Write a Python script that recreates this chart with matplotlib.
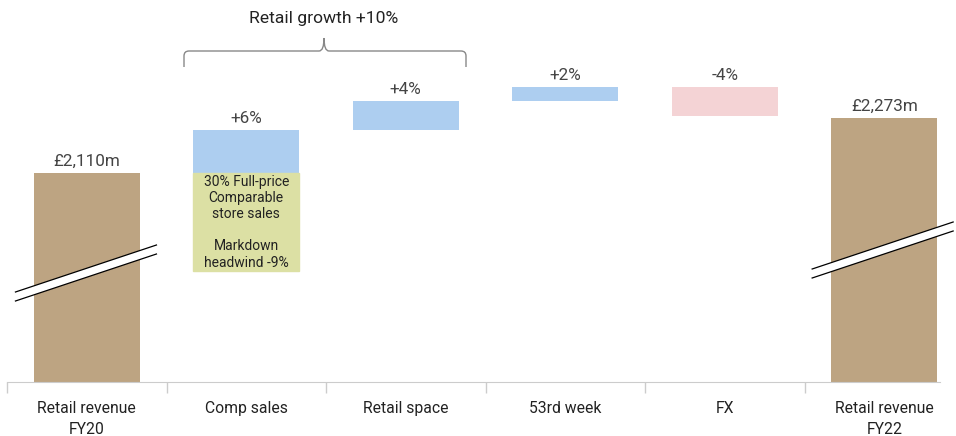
import matplotlib
matplotlib.use("Agg")
import matplotlib.pyplot as plt
from matplotlib.patches import Polygon, Rectangle, PathPatch
from matplotlib.path import Path
from matplotlib.transforms import Affine2D, blended_transform_factory

# ---- data ----
categories = ["Retail revenue\nFY20", "Comp sales", "Retail space", "53rd week", "FX", "Retail revenue\nFY22"]
start_value = 2110          # £m
end_value = 2273            # £m
step_pct = [6, 4, 2, -4]    # % of FY20 retail revenue
start_label = "£2,110m"
end_label = "£2,273m"
step_labels = ["+6%", "+4%", "+2%", "-4%"]
growth_label = "Retail growth +10%"
comp_note = "30% Full-price\nComparable\nstore sales\n\nMarkdown\nheadwind -9%"

# ---- style ----
TAN = "#BDA482"
BLUE = "#ADCEF0"
PINK = "#F4D3D5"
GREEN = "#DCE0A4"
AXIS_GREY = "#CCCCCC"
FONT = "Roboto"

W, H = 956, 436
fig = plt.figure(figsize=(W / 100, H / 100), dpi=100)

# axes geometry in pixels
base_px = 382           # y pixel of the baseline
left_px = 7
unit_px = 159.5         # pixels per category
m_per_px = 2.944        # £m per pixel
y_bottom = 1495         # broken axis starts here

ax = fig.add_axes([left_px / W, (H - base_px) / H, (W - left_px) / W, base_px / H])
ax.set_xlim(-0.5, -0.5 + (W - left_px) / unit_px)
ax.set_ylim(y_bottom, y_bottom + base_px * m_per_px)
for s in ["top", "right", "left"]:
    ax.spines[s].set_visible(False)
ax.spines["bottom"].set_color(AXIS_GREY)
ax.spines["bottom"].set_bounds(-0.5, 5.35)
ax.set_yticks([])

x = list(range(len(categories)))
ax.set_xticks(x)
ax.set_xticklabels(categories, fontfamily=FONT, fontsize=11.3, color="#222222", linespacing=1.45)
ax.tick_params(axis="x", which="major", length=0, pad=14)
ax.set_xticks([i - 0.5 for i in range(len(categories))], minor=True)
ax.tick_params(axis="x", which="minor", length=8, color=AXIS_GREY, width=1)

bw = 0.667

# totals
ax.bar(0, start_value - y_bottom, bottom=y_bottom, width=bw, color=TAN, zorder=2)
ax.bar(5, end_value - y_bottom, bottom=y_bottom, width=bw, color=TAN, zorder=2)

# steps
level = start_value
tops = []
for i, p in enumerate(step_pct):
    delta = start_value * p / 100.0
    lo, hi = sorted([level, level + delta])
    ax.bar(i + 1, hi - lo, bottom=lo, width=bw, color=BLUE if p >= 0 else PINK, zorder=2)
    tops.append(hi)
    level += delta

# value labels
lab_kw = dict(ha="center", va="bottom", fontfamily=FONT, fontsize=12.3, color="#444444")
off = 4 * m_per_px
ax.text(0, start_value + off, start_label, **lab_kw)
ax.text(5, end_value + off, end_label, **lab_kw)
for i, (t, lab) in enumerate(zip(tops, step_labels)):
    ax.text(i + 1, t + off, lab, **lab_kw)

# comp sales breakdown box under the +6% bar
note_h = 98 * m_per_px
ax.add_patch(Rectangle((1 - bw / 2, start_value - note_h), bw, note_h, color=GREEN, zorder=2))
ax.text(1, start_value - note_h / 2, comp_note, ha="center", va="center",
        fontfamily=FONT, fontsize=10, color="#222222", linespacing=1.2, zorder=3)

# pixel transform (top-left origin) and x-data / y-pixel blend
pix = Affine2D().scale(1 / W, -1 / H).translate(0, 1) + fig.transFigure
xdata_ypix = blended_transform_factory(ax.transData, pix)

# axis break marks on the two total bars
def axis_break(xc, yc):
    hw = 70.5 / unit_px
    rise = 23.5
    gap = 4.5
    up = [(xc - hw, yc - gap + rise), (xc + hw, yc - gap - rise)]
    dn = [(xc - hw, yc + gap + rise), (xc + hw, yc + gap - rise)]
    poly = Polygon([up[0], up[1], dn[1], dn[0]], closed=True, facecolor="white",
                   edgecolor="none", transform=xdata_ypix, zorder=4, clip_on=False)
    ax.add_patch(poly)
    for seg in (up, dn):
        ax.plot([seg[0][0], seg[1][0]], [seg[0][1], seg[1][1]], color="black", lw=0.9,
                transform=xdata_ypix, zorder=5, clip_on=False)

axis_break(-0.005, 273)
axis_break(4.99, 250)

# brace over comp sales and retail space
x0 = (184 - left_px) / unit_px - 0.5
x1 = (466 - left_px) / unit_px - 0.5
xc = (324 - left_px) / unit_px - 0.5
dx = 5 / unit_px
yb, yh, yt = 67, 51, 38
verts = [(x0, yb), (x0, yh + 5), (x0, yh), (x0 + dx, yh),
         (xc - dx, yh), (xc, yh), (xc, yt),
         (xc, yh), (xc + dx, yh),
         (x1 - dx, yh), (x1, yh), (x1, yh + 5), (x1, yb)]
codes = [Path.MOVETO, Path.LINETO, Path.CURVE3, Path.CURVE3,
         Path.LINETO, Path.CURVE3, Path.CURVE3,
         Path.CURVE3, Path.CURVE3,
         Path.LINETO, Path.CURVE3, Path.CURVE3, Path.LINETO]
ax.add_patch(PathPatch(Path(verts, codes), facecolor="none", edgecolor="#888888", lw=1,
                       transform=xdata_ypix, clip_on=False))
ax.text(xc, 18, growth_label, ha="center", va="center", fontfamily=FONT, fontsize=12.6,
        color="#222222", transform=xdata_ypix)

fig.savefig("out.png", dpi=100)
